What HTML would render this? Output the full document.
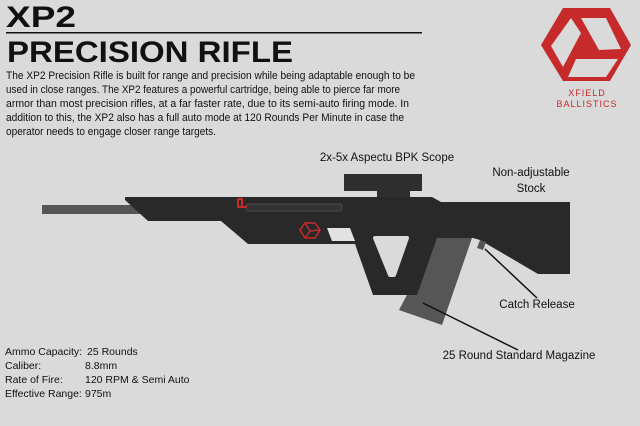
<!DOCTYPE html>
<html><head><meta charset="utf-8"><style>
html,body{margin:0;padding:0;background:#dadada;}
svg{display:block;}
text{font-family:"Liberation Sans",sans-serif;fill:#111;}
</style></head><body>
<svg width="640" height="426" viewBox="0 0 640 426" xmlns="http://www.w3.org/2000/svg">
<rect width="640" height="426" fill="#dadada"/>
<text x="6" y="27" font-size="30" font-weight="bold" textLength="70" lengthAdjust="spacingAndGlyphs">XP2</text>
<rect x="6" y="32" width="416" height="1.5" fill="#111"/>
<text x="7" y="62" font-size="30" font-weight="bold" textLength="286" lengthAdjust="spacingAndGlyphs">PRECISION RIFLE</text>
<g font-size="11">
<text x="6" y="79" textLength="409" lengthAdjust="spacingAndGlyphs">The XP2 Precision Rifle is built for range and precision while being adaptable enough to be</text>
<text x="6" y="93" textLength="394" lengthAdjust="spacingAndGlyphs">used in close ranges. The XP2 features a powerful cartridge, being able to pierce far more</text>
<text x="6" y="107" textLength="403" lengthAdjust="spacingAndGlyphs">armor than most precision rifles, at a far faster rate, due to its semi-auto firing mode. In</text>
<text x="6" y="121" textLength="398" lengthAdjust="spacingAndGlyphs">addition to this, the XP2 also has a full auto mode at 120 Rounds Per Minute in case the</text>
<text x="6" y="135" textLength="210" lengthAdjust="spacingAndGlyphs">operator needs to engage closer range targets.</text>
</g>
<!-- logo -->
<polygon points="563,8 610,8 631,45 610,81 563,81 541,45" fill="#c62a2a"/>
<polygon points="571,18 581,33 563,67 551,46" fill="#dadada"/>
<polygon points="581,18 606,18 621,49 599,50" fill="#dadada"/>
<polygon points="576,59 618,59 606,77 568,77" fill="#dadada"/>
<text x="587" y="96" font-size="9" style="fill:#c62a2a" text-anchor="middle" letter-spacing="1">XFIELD</text>
<text x="587" y="107" font-size="9" style="fill:#c62a2a" text-anchor="middle" letter-spacing="1">BALLISTICS</text>
<!-- rifle -->
<rect x="42" y="205" width="100" height="9" fill="#555"/>
<rect x="344" y="174" width="78" height="17" fill="#2e2e2e"/>
<rect x="377" y="190" width="33" height="8" fill="#2e2e2e"/>
<polygon points="437,238 472,238 442,325 399,310" fill="#565656"/>
<polygon points="125,197 432,197 441,202 570,202 570,274 538,274 480,240 473,238 437,238 417,295 373,295 355,244 248,244 221,221 148,221 125,200" fill="#292929"/>
<polygon points="375,238 407,238 394,275 390,275" fill="#dadada" stroke="#dadada" stroke-width="4" stroke-linejoin="round"/>
<polygon points="327,228 350,228 355,241 332,241" fill="#e2e2e2"/>
<rect x="246" y="204" width="96" height="7" rx="2" fill="#333" stroke="#4a4a4a" stroke-width="1"/>
<path d="M238,199 h4 v8 h5 M238,199 v8 h4" stroke="#c62a2a" stroke-width="2" fill="none"/>
<polygon points="305,223 315,223 320,230 315,238 305,238 300,230" fill="none" stroke="#c62a2a" stroke-width="1.5"/>
<path d="M305,223 L310,231 L320,230 M310,231 L305,238" stroke="#c62a2a" stroke-width="1.5" fill="none"/>
<polygon points="480,240 486,242 483,250 477,248" fill="#555"/>
<line x1="485" y1="249" x2="537" y2="298" stroke="#111" stroke-width="1.5"/>
<line x1="423" y1="303" x2="518" y2="350" stroke="#111" stroke-width="1.5"/>
<g font-size="11.5">
<text x="387" y="161" text-anchor="middle">2x-5x Aspectu BPK Scope</text>
<text x="531" y="176" text-anchor="middle">Non-adjustable</text>
<text x="531" y="192" text-anchor="middle">Stock</text>
<text x="537" y="308" text-anchor="middle">Catch Release</text>
<text x="519" y="359" text-anchor="middle">25 Round Standard Magazine</text>
</g>
<g font-size="10.5">
<text x="5" y="355">Ammo Capacity:</text><text x="87" y="355">25 Rounds</text>
<text x="5" y="369">Caliber:</text><text x="85" y="369">8.8mm</text>
<text x="5" y="383">Rate of Fire:</text><text x="85" y="383">120 RPM &amp; Semi Auto</text>
<text x="5" y="397">Effective Range:</text><text x="85" y="397">975m</text>
</g>
</svg>
</body></html>
